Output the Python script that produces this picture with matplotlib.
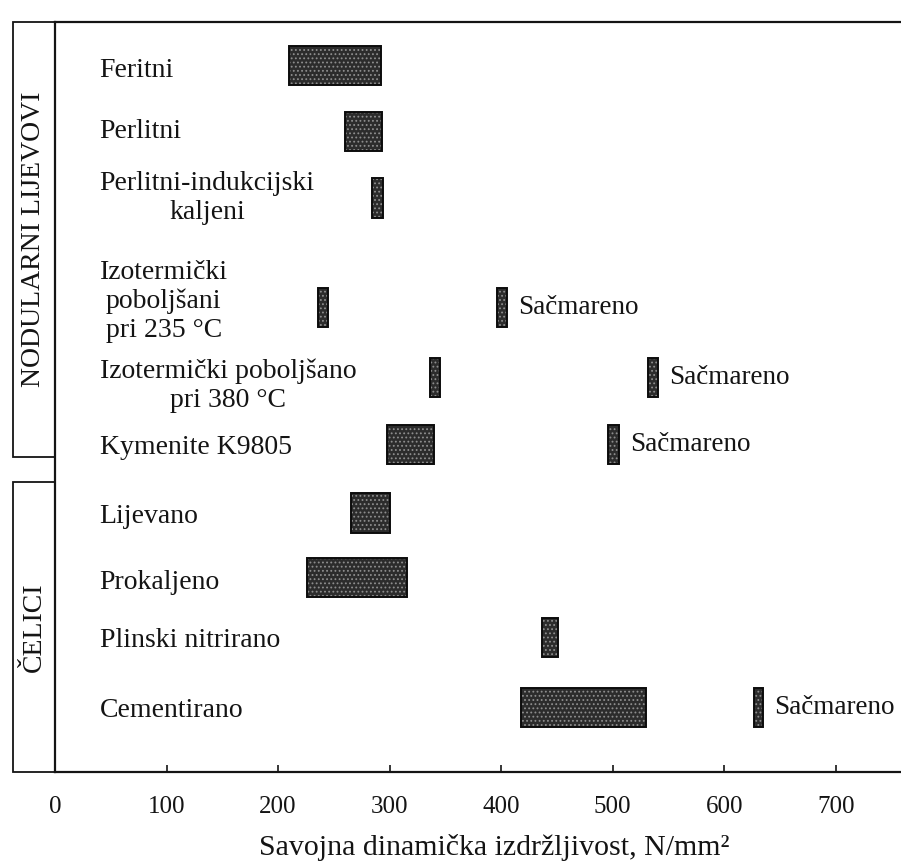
import matplotlib.pyplot as plt
from matplotlib.patches import Rectangle
import matplotlib.transforms as mtransforms

plt.rcParams['font.family'] = ['Liberation Serif', 'DejaVu Serif']
plt.rcParams['hatch.linewidth'] = 0.8

# fatigue strength ranges, N/mm^2
categories = ["Feritni", "Perlitni", "Perlitni-indukcijski\nkaljeni",
              "Izotermički\npoboljšani\npri 235 °C",
              "Izotermički poboljšano\npri 380 °C", "Kymenite K9805",
              "Lijevano", "Prokaljeno", "Plinski nitrirano", "Cementirano"]
range_low = [210, 260, 284, 236, 336, 298, 265, 226, 437, 418]
range_high = [292, 293, 294, 245, 345, 340, 300, 316, 451, 530]
# shot peened variants (None = not tested)
shot_low = [None, None, None, 396, 532, 496, None, None, None, 627]
shot_high = [None, None, None, 405, 541, 506, None, None, None, 635]
shot_label = "Sačmareno"
groups = ["NODULARNI LIJEVOVI", "ČELICI"]
xticks = [0, 100, 200, 300, 400, 500, 600, 700]

# row layout (rows are not evenly spaced)
row_pos = [0, 1.0, 2.0, 3.65, 4.7, 5.71, 6.74, 7.71, 8.61, 9.67]
label_shift = [0.08, 0, 0, -0.09, 0.12, 0.04, 0.05, 0.08, 0.05, 0.05]
group_spans = [(-0.65, 5.90), (6.28, 10.64)]
bar_h = 0.59
ink = '#141414'

fig = plt.figure(figsize=(9.01, 8.63), dpi=100)
ax = fig.add_axes([55 / 901, 1 - 772 / 863, 846 / 901, 750 / 863])


def draw_bar(lo, hi, y):
    ax.barh(y, hi - lo, left=lo, height=bar_h, color='#2c2c2c',
            hatch='....', edgecolor='#8e8e8e', linewidth=0)
    ax.barh(y, hi - lo, left=lo, height=bar_h, fill=False,
            edgecolor='#0c0c0c', linewidth=1.4)


for i, cat in enumerate(categories):
    y = row_pos[i]
    draw_bar(range_low[i], range_high[i], y)
    ax.text(40, y + label_shift[i], cat, ha='left', va='center',
            multialignment='center', fontsize=20, color=ink)
    if shot_low[i] is not None:
        draw_bar(shot_low[i], shot_high[i], y)
        ax.text(shot_high[i] + 10, y, shot_label, ha='left', va='center',
                fontsize=19.5, color=ink)

ax.set_xlim(0, 758.5)
ax.set_ylim(10.64, -0.65)
ax.set_xticks(xticks)
ax.set_yticks([])
ax.tick_params(axis='x', direction='in', length=5, width=1.2, pad=17,
               labelsize=18, colors=ink)
ax.spines['right'].set_visible(False)
for s in ['left', 'top', 'bottom']:
    ax.spines[s].set_linewidth(1.6)
    ax.spines[s].set_color(ink)
ax.set_xlabel("Savojna dinamička izdržljivost, N/mm²", fontsize=21.5,
              color=ink)
ax.xaxis.set_label_coords(0.519, -0.083)

# group boxes on the left side
trans = mtransforms.blended_transform_factory(ax.transAxes, ax.transData)
box_x0 = (13 - 55) / 846
for name, (top, bottom) in zip(groups, group_spans):
    ax.add_patch(Rectangle((box_x0, top), -box_x0, bottom - top,
                           transform=trans, fill=False, edgecolor=ink,
                           linewidth=1.3, clip_on=False))
    ax.text(box_x0 / 2, (top + bottom) / 2, name, transform=trans,
            rotation=90, ha='center', va='center', fontsize=20, color=ink)

fig.savefig('out.png', dpi=100)
